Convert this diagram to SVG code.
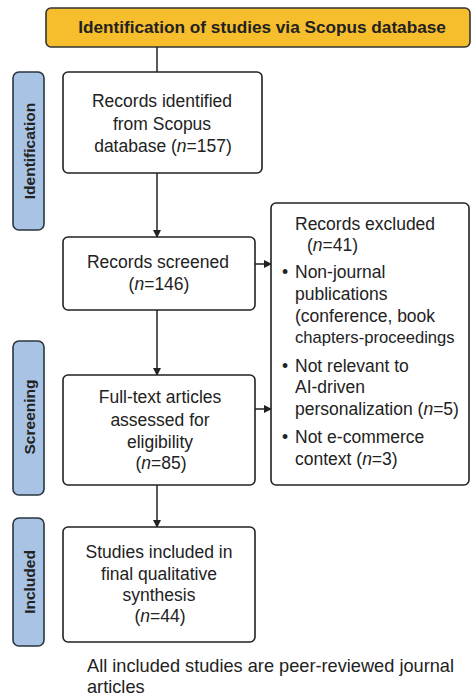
<svg xmlns="http://www.w3.org/2000/svg" width="471" height="698" viewBox="0 0 471 698">
<style>
.box{fill:#fff;stroke:#222;stroke-width:1.6}
.side{fill:#a8c3e3;stroke:#2a3542;stroke-width:1.6}
.t{font-family:"Liberation Sans",Arial,sans-serif;font-size:17.5px;fill:#222}
.c{text-anchor:middle}
.sl{font-family:"Liberation Sans",Arial,sans-serif;font-size:15.5px;font-weight:bold;fill:#222;text-anchor:middle}
.ln{stroke:#222;stroke-width:1.5;fill:none}
</style>
<defs>
<marker id="ah" markerWidth="8" markerHeight="8" refX="7" refY="4" orient="auto" markerUnits="userSpaceOnUse">
<path d="M0,0 L8,4 L0,8 Z" fill="#222"/>
</marker>
</defs>
<rect width="471" height="698" fill="#fff"/>
<g id="header">
<rect x="46" y="8" width="424" height="39" rx="5" fill="#f6be2c" stroke="#333" stroke-width="1.6"/>
<text x="262" y="33" font-family="'Liberation Sans',Arial,sans-serif" font-size="17.2" font-weight="bold" fill="#222" text-anchor="middle">Identification of studies via Scopus database</text>
</g>
<g id="side-identification">
<rect class="side" x="13" y="72" width="31" height="158" rx="6"/>
<text class="sl" transform="translate(34.5,151) rotate(-90)">Identification</text>
</g>
<g id="side-screening">
<rect class="side" x="13" y="341" width="31" height="154" rx="6"/>
<text class="sl" transform="translate(34.5,417) rotate(-90)">Screening</text>
</g>
<g id="side-included">
<rect class="side" x="13" y="518" width="31" height="128" rx="6"/>
<text class="sl" transform="translate(34.5,582) rotate(-90)">Included</text>
</g>
<g id="connectors">
<line class="ln" x1="157" y1="47" x2="157" y2="72"/>
<line class="ln" x1="157" y1="173" x2="157" y2="237" marker-end="url(#ah)"/>
<line class="ln" x1="157" y1="310" x2="157" y2="375" marker-end="url(#ah)"/>
<line class="ln" x1="157" y1="485" x2="157" y2="527" marker-end="url(#ah)"/>
<line class="ln" x1="255" y1="264" x2="271" y2="264" marker-end="url(#ah)"/>
<line class="ln" x1="255" y1="409" x2="271" y2="409" marker-end="url(#ah)"/>
</g>
<g id="identified">
<rect class="box" x="63" y="72" width="199" height="101" rx="5"/>
<text class="t c" x="162" y="107">Records identified</text>
<text class="t c" x="162" y="130">from Scopus</text>
<text class="t c" x="163" y="152">database (<tspan font-style="italic">n</tspan>=157)</text>
</g>
<g id="screened">
<rect class="box" x="63" y="237" width="192" height="73" rx="5"/>
<text class="t c" x="158" y="268">Records screened</text>
<text class="t c" x="159" y="290">(<tspan font-style="italic">n</tspan>=146)</text>
</g>
<g id="fulltext">
<rect class="box" x="63" y="375" width="192" height="110" rx="5"/>
<text class="t c" x="160" y="403">Full-text articles</text>
<text class="t c" x="160" y="426">assessed for</text>
<text class="t c" x="160" y="448">eligibility</text>
<text class="t c" x="161" y="469">(<tspan font-style="italic">n</tspan>=85)</text>
</g>
<g id="excluded">
<rect class="box" x="271" y="203" width="198" height="282" rx="5"/>
<text class="t" x="295" y="230">Records excluded</text>
<text class="t" x="307" y="251">(<tspan font-style="italic">n</tspan>=41)</text>
<text class="t" x="282" y="278">•</text>
<text class="t" x="295" y="278">Non-journal</text>
<text class="t" x="295" y="300">publications</text>
<text class="t" x="295" y="322">(conference, book</text>
<text class="t" x="295" y="343" style="font-size:16.6px">chapters-proceedings</text>
<text class="t" x="282" y="372">•</text>
<text class="t" x="295" y="372">Not relevant to</text>
<text class="t" x="295" y="393">AI-driven</text>
<text class="t" x="295" y="415">personalization (<tspan font-style="italic">n</tspan>=5)</text>
<text class="t" x="282" y="443">•</text>
<text class="t" x="295" y="443">Not e-commerce</text>
<text class="t" x="295" y="465">context (<tspan font-style="italic">n</tspan>=3)</text>
</g>
<g id="included">
<rect class="box" x="63" y="527" width="192" height="115" rx="5"/>
<text class="t c" x="159" y="558">Studies included in</text>
<text class="t c" x="159" y="580">final qualitative</text>
<text class="t c" x="159" y="601">synthesis</text>
<text class="t c" x="160" y="622">(<tspan font-style="italic">n</tspan>=44)</text>
</g>
<g id="footer">
<text class="t" x="87" y="672" style="font-size:18.2px">All included studies are peer-reviewed journal</text>
<text class="t" x="87" y="693" style="font-size:18.2px">articles</text>
</g>
</svg>
